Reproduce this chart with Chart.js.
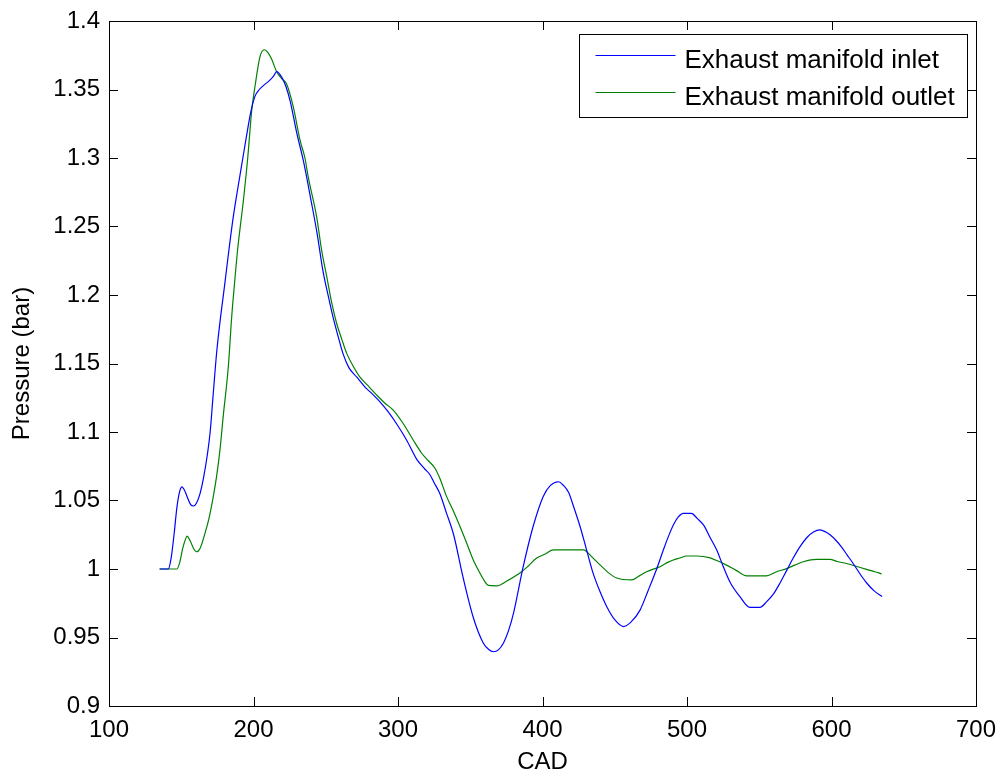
<!DOCTYPE html>
<html lang="en">
  <head>
    <meta charset="UTF-8" />
    <title>pressure</title>
    <script src="https://cdn.jsdelivr.net/npm/chart.js@4"></script>
    <style>
      body { margin: 0; background: #fff; }
      .box { width: 1000px; height: 774px; }
    </style>
  </head>
  <body>
    <div class="box">
      <canvas id="myChart"></canvas>
    </div>

    <script>
      //font
      const basefont = "'Liberation Sans', Arial, sans-serif";

      //inlet curve (CAD, bar)
      const cadInlet = [135, 141, 143, 145, 147, 149, 150.5, 152, 154, 156.5, 158.5, 160.5, 163, 165.5, 168, 170, 172, 174.5, 177, 180, 183, 186, 189, 192, 195, 198, 201, 204, 207, 211.5, 214, 216, 219.5, 222.5, 225.5, 230, 234.5, 240, 244, 248, 252, 255, 258.5, 262, 266, 271.5, 277, 282, 287.5, 293, 299, 306, 313, 318.5, 322, 325, 329, 333.5, 338.5, 345, 352, 359, 363, 366, 369.5, 373, 376.5, 380, 386.5, 393.5, 400.5, 405.5, 411, 414.5, 418, 422, 426, 430.5, 435, 440, 444.5, 450, 456, 461, 467.5, 473, 479, 484, 488, 491, 494, 497.5, 503, 507, 511.5, 516, 520.5, 525, 530, 536.5, 543.5, 550.5, 555, 560, 564.5, 569, 573.5, 578, 583, 587.5, 592, 596, 599, 603, 607, 611, 615, 620, 624.5, 629.5, 635];
      const pInlet = [1.000, 1.000, 1.008, 1.025, 1.045, 1.057, 1.060, 1.058, 1.053, 1.047, 1.046, 1.048, 1.055, 1.067, 1.083, 1.100, 1.126, 1.158, 1.182, 1.207, 1.233, 1.257, 1.277, 1.296, 1.315, 1.333, 1.345, 1.350, 1.353, 1.357, 1.360, 1.363, 1.359, 1.352, 1.341, 1.318, 1.298, 1.268, 1.245, 1.218, 1.198, 1.184, 1.170, 1.157, 1.147, 1.140, 1.133, 1.128, 1.122, 1.115, 1.106, 1.094, 1.080, 1.073, 1.069, 1.063, 1.055, 1.041, 1.025, 0.994, 0.965, 0.946, 0.941, 0.9396, 0.941, 0.946, 0.955, 0.968, 1.001, 1.031, 1.053, 1.061, 1.0637, 1.061, 1.056, 1.044, 1.031, 1.014, 0.997, 0.983, 0.9725, 0.963, 0.958, 0.961, 0.970, 0.984, 1.000, 1.015, 1.026, 1.033, 1.038, 1.0406, 1.0406, 1.037, 1.032, 1.023, 1.014, 1.002, 0.990, 0.980, 0.972, 0.972, 0.976, 0.982, 0.990, 0.999, 1.008, 1.016, 1.023, 1.027, 1.0285, 1.027, 1.025, 1.021, 1.016, 1.010, 1.004, 0.996, 0.9896, 0.984, 0.980];

      //outlet curve (CAD, bar)
      const cadOutlet = [135, 147, 149, 151, 153, 154, 156, 158.5, 160.7, 163, 166.4, 169, 172.2, 174.5, 176.8, 179, 182.6, 184.9, 187, 189, 193, 196, 198.8, 201, 204.5, 207.5, 210, 212.6, 216, 219.5, 222.9, 227.5, 232.2, 235.6, 237.9, 243.7, 247.1, 250.7, 254, 257.6, 261, 264.5, 269, 273.7, 280, 286.4, 291, 296.7, 303.7, 310.6, 316.4, 321, 325.6, 329, 333.6, 338, 342.9, 347.5, 352.1, 356.7, 360, 362.5, 368.3, 375, 384.4, 390, 396, 402, 407.5, 418, 428.3, 434, 439.8, 446, 451.3, 461.7, 467, 472, 481.3, 487, 490.5, 495, 499.8, 506.7, 515.4, 521, 527, 534, 541.3, 555, 562, 569, 575, 580.5, 589.7, 598.9, 604, 610.4, 617, 624.3, 630, 634.7];
      const pOutlet = [1.000, 1.000, 1.005, 1.015, 1.022, 1.024, 1.021, 1.015, 1.0126, 1.015, 1.026, 1.036, 1.053, 1.068, 1.087, 1.111, 1.148, 1.184, 1.210, 1.233, 1.269, 1.300, 1.335, 1.352, 1.374, 1.379, 1.377, 1.372, 1.363, 1.358, 1.354, 1.3375, 1.313, 1.300, 1.286, 1.257, 1.233, 1.2134, 1.195, 1.179, 1.168, 1.1574, 1.148, 1.140, 1.133, 1.1257, 1.121, 1.116, 1.106, 1.094, 1.0845, 1.079, 1.0735, 1.066, 1.053, 1.043, 1.031, 1.019, 1.0066, 0.997, 0.991, 0.988, 0.9877, 0.991, 0.997, 1.002, 1.008, 1.011, 1.0139, 1.0139, 1.0139, 1.009, 1.003, 0.997, 0.9934, 0.992, 0.995, 0.998, 1.0017, 1.005, 1.0066, 1.008, 1.0095, 1.0095, 1.0083, 1.006, 1.003, 0.999, 0.995, 0.995, 0.998, 1.0003, 1.003, 1.0053, 1.007, 1.007, 1.0055, 1.004, 1.002, 0.9997, 0.998, 0.9964];

      const seriesNames = ["Exhaust manifold inlet", "Exhaust manifold outlet"];
      const seriesColors = ["rgb(0, 0, 255)", "rgb(0, 128, 0)"];

      function toPoints(xs, ys) {
        return xs.map((x, i) => ({ x: x, y: ys[i] }));
      }

      //frame, inward ticks on all four sides, and the boxed legend
      const framePlugin = {
        id: "frame",
        afterDraw(chart) {
          const ctx = chart.ctx;
          const a = chart.chartArea;
          const xs = chart.scales.x;
          const ys = chart.scales.y;
          const tick = 9;
          ctx.save();
          ctx.strokeStyle = "#000";
          ctx.lineWidth = 1;
          ctx.strokeRect(Math.round(a.left) + 0.5, Math.round(a.top) + 0.5, Math.round(a.width), Math.round(a.height));
          ctx.beginPath();
          xs.ticks.forEach((t) => {
            const px = Math.round(xs.getPixelForValue(t.value)) + 0.5;
            ctx.moveTo(px, a.bottom); ctx.lineTo(px, a.bottom - tick);
            ctx.moveTo(px, a.top); ctx.lineTo(px, a.top + tick);
          });
          ys.ticks.forEach((t) => {
            const py = Math.round(ys.getPixelForValue(t.value)) + 0.5;
            ctx.moveTo(a.left, py); ctx.lineTo(a.left + tick, py);
            ctx.moveTo(a.right, py); ctx.lineTo(a.right - tick, py);
          });
          ctx.stroke();

          //legend box
          const bx = Math.round(a.right - 397) + 0.5;
          const by = Math.round(a.top + 13) + 0.5;
          ctx.fillStyle = "#fff";
          ctx.fillRect(bx, by, 388, 83);
          ctx.strokeRect(bx, by, 388, 83);
          ctx.font = "26px " + basefont;
          ctx.textBaseline = "alphabetic";
          ctx.textAlign = "left";
          chart.data.datasets.forEach((ds, i) => {
            const ly = by + 21 + i * 37;
            ctx.strokeStyle = ds.borderColor;
            ctx.beginPath();
            ctx.moveTo(bx + 16, ly); ctx.lineTo(bx + 96, ly);
            ctx.stroke();
            ctx.fillStyle = "#000";
            ctx.fillText(ds.label, bx + 105, ly + 12);
          });
          ctx.restore();
        },
      };

      const config = {
        type: "line",
        data: {
          datasets: [
            {
              label: seriesNames[0],
              data: toPoints(cadInlet, pInlet),
              borderColor: seriesColors[0],
              borderWidth: 1.2,
              pointRadius: 0,
              cubicInterpolationMode: "monotone",
            },
            {
              label: seriesNames[1],
              data: toPoints(cadOutlet, pOutlet),
              borderColor: seriesColors[1],
              borderWidth: 1.2,
              pointRadius: 0,
              cubicInterpolationMode: "monotone",
            },
          ],
        },
        options: {
          responsive: true,
          maintainAspectRatio: false,
          animation: false,
          layout: { padding: { top: 21, right: 24, left: 0, bottom: 0 } },
          plugins: {
            legend: { display: false },
            tooltip: { enabled: false },
          },
          scales: {
            x: {
              type: "linear",
              min: 100,
              max: 700,
              grid: { display: false, drawTicks: false },
              border: { display: false },
              ticks: {
                stepSize: 100,
                padding: 10,
                color: "#000",
                maxRotation: 0,
                font: { size: 24, family: basefont },
              },
              title: {
                display: true,
                text: "CAD",
                color: "#000",
                padding: { top: 0, bottom: 0 },
                font: { size: 24, family: basefont, lineHeight: 1 },
              },
              afterFit(scale) {
                scale.height = 68;
                scale.paddingLeft = 0;
                scale.paddingRight = 0;
              },
            },
            y: {
              min: 0.9,
              max: 1.4,
              grid: { display: false, drawTicks: false },
              border: { display: false },
              ticks: {
                stepSize: 0.05,
                padding: 9,
                color: "#000",
                font: { size: 24, family: basefont },
                callback: (v) => String(Number(v.toFixed(2))),
              },
              title: {
                display: true,
                text: "Pressure (bar)",
                color: "#000",
                padding: { top: 10, bottom: 0 },
                font: { size: 24, family: basefont, lineHeight: 1 },
              },
              afterFit(scale) {
                scale.width = 109;
                scale.paddingTop = 0;
                scale.paddingBottom = 0;
              },
            },
          },
        },
        plugins: [framePlugin],
      };

      const ctx = document.getElementById("myChart").getContext("2d");
      const myChart = new Chart(ctx, config);
    </script>
  </body>
</html>
